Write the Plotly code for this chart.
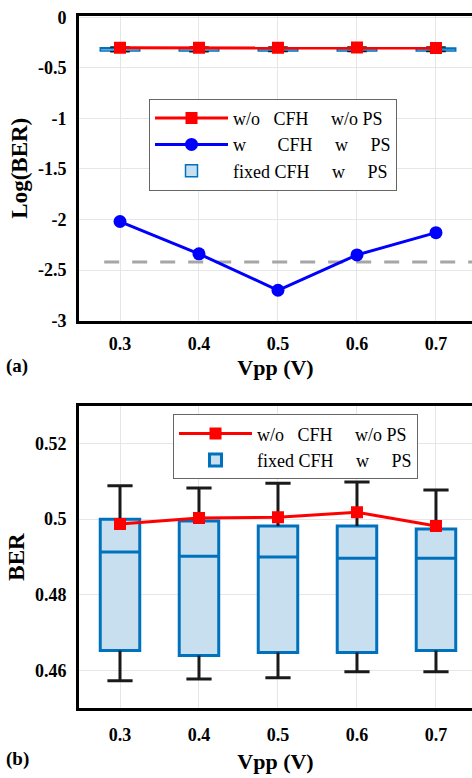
import numpy as np
import plotly.graph_objects as go

# ---------------- data ----------------
vpp = [0.3, 0.4, 0.5, 0.6, 0.7]
x_ticks = [0.3, 0.4, 0.5, 0.6, 0.7]
x_ticktext = ["0.3", "0.4", "0.5", "0.6", "0.7"]

# panel (b): BER
ber_no_cfh_no_ps = [0.4987, 0.5003, 0.5005, 0.5018, 0.4982]
box_upper = [0.5088, 0.5082, 0.5095, 0.5098, 0.5077]
box_q3 = [0.5000, 0.4995, 0.4982, 0.4982, 0.4974]
box_median = [0.4913, 0.4902, 0.4900, 0.4897, 0.4897]
box_q1 = [0.4653, 0.4640, 0.4648, 0.4648, 0.4653]
box_lower = [0.4573, 0.4578, 0.4581, 0.4597, 0.4597]

# panel (a): log10(BER)
log_w_cfh_w_ps = [-2.02, -2.34, -2.70, -2.35, -2.13]
fec_threshold = -2.42
fec_x = [0.28, 0.75]

ya_ticks = [0, -0.5, -1, -1.5, -2, -2.5, -3]
ya_ticktext = ["0", "-0.5", "-1", "-1.5", "-2", "-2.5", "-3"]
yb_ticks = [0.46, 0.48, 0.50, 0.52]
yb_ticktext = ["0.46", "0.48", "0.5", "0.52"]

# ---------------- style ----------------
RED = "#ff0000"
BLUE = "#0000ff"
BOXLINE = "#0072bd"
BOXFILL = "#c8dff0"
GRID = "#e6e6e6"
WHISK = "#1a1a1a"
FONT = "Liberation Serif"
NB = "\u00a0"

lab1 = "w/o" + NB * 3 + "CFH" + NB * 5 + "w/o" + NB + "PS"
lab2 = "w" + NB * 7 + "CFH" + NB * 5 + "w" + NB * 5 + "PS"
lab3 = "fixed" + NB + "CFH" + NB * 5 + "w" + NB * 5 + "PS"

fig = go.Figure()


def seg(xs, a, b):
    ox, oy = [], []
    for x, p, q in zip(xs, a, b):
        ox += [x, x, None]
        oy += [p, q, None]
    return ox, oy


def add_panel(xa, ya, q1, med, q3, lo, hi, red_vals, leg, boxlw, capsize, wlw):
    # boxes
    fig.add_trace(go.Box(
        x=vpp, q1=q1, median=med, q3=q3, lowerfence=q1, upperfence=q3,
        width=0.05, fillcolor=BOXFILL, line=dict(color=BOXLINE, width=boxlw),
        name=lab3, xaxis=xa, yaxis=ya, showlegend=True,
        legend=leg, legendrank=3, hoverinfo="skip",
    ))
    # whisker stems
    wx1, wy1 = seg(vpp, q3, hi)
    wx2, wy2 = seg(vpp, q1, lo)
    fig.add_trace(go.Scatter(
        x=wx1 + wx2, y=wy1 + wy2, mode="lines",
        line=dict(color=WHISK, width=wlw),
        xaxis=xa, yaxis=ya, showlegend=False, hoverinfo="skip",
    ))
    # whisker caps
    fig.add_trace(go.Scatter(
        x=vpp + vpp, y=list(hi) + list(lo), mode="markers",
        marker=dict(symbol="line-ew-open", size=capsize, color=WHISK,
                    line=dict(color=WHISK, width=wlw)),
        xaxis=xa, yaxis=ya, showlegend=False, hoverinfo="skip",
    ))
    # red line
    fig.add_trace(go.Scatter(
        x=vpp, y=red_vals, mode="lines+markers", name=lab1,
        line=dict(color=RED, width=3),
        marker=dict(symbol="square", size=12, color=RED),
        xaxis=xa, yaxis=ya, legend=leg, legendrank=1,
    ))


# panel (a) in log scale
lg = np.log10
add_panel("x", "y",
          list(lg(box_q1)), list(lg(box_median)), list(lg(box_q3)),
          list(lg(box_lower)), list(lg(box_upper)),
          list(lg(ber_no_cfh_no_ps)), "legend", 1.5, 14, 1.5)
fig.add_trace(go.Scatter(
    x=fec_x, y=[fec_threshold] * 2, mode="lines",
    line=dict(color="#a6a6a6", width=3, dash="15px,13px"),
    showlegend=False, xaxis="x", yaxis="y", hoverinfo="skip",
))
fig.add_trace(go.Scatter(
    x=vpp, y=log_w_cfh_w_ps, mode="lines+markers", name=lab2,
    line=dict(color=BLUE, width=3),
    marker=dict(symbol="circle", size=13, color=BLUE),
    xaxis="x", yaxis="y", legend="legend", legendrank=2,
))

# panel (b)
add_panel("x2", "y2", box_q1, box_median, box_q3, box_lower, box_upper,
          ber_no_cfh_no_ps, "legend2", 3, 18, 3)

W, H = 472, 778
xl = 79 / W
xrange = [0.2481, 0.7456]

axis_common = dict(
    showline=True, linecolor="black", linewidth=3,
    showgrid=True, gridcolor=GRID, gridwidth=1, zeroline=False,
    tickfont=dict(family=FONT, size=18, color="black", weight="bold"),
    ticks="", ticklabeloverflow="allow",
)

legend_common = dict(
    bgcolor="white", bordercolor="#666666", borderwidth=1,
    font=dict(family=FONT, size=18, color="black"),
    itemwidth=73, tracegroupgap=0, traceorder="normal",
    xanchor="left", yanchor="top",
)

title_x = dict(family=FONT, size=22, color="black", weight="bold")
title_y = dict(family=FONT, size=23, color="black", weight="bold")

fig.update_layout(
    width=W, height=H, margin=dict(l=0, r=0, t=0, b=0),
    paper_bgcolor="white", plot_bgcolor="white",
    showlegend=True,
    xaxis=dict(**axis_common, domain=[xl, 1.0], range=xrange, mirror=True,
               tickvals=x_ticks, ticktext=x_ticktext, anchor="y",
               ticklabelstandoff=5,
               title=dict(text="Vpp (V)", standoff=7, font=title_x)),
    yaxis=dict(**axis_common, domain=[1 - 320 / H, 1 - 8 / H], range=[-3, 0.015],
               tickvals=ya_ticks, ticktext=ya_ticktext, anchor="x",
               ticklabelstandoff=6,
               title=dict(text="Log(BER)", standoff=4, font=title_y)),
    xaxis2=dict(**axis_common, domain=[xl, 1.0], range=xrange, mirror=True,
                tickvals=x_ticks, ticktext=x_ticktext, anchor="y2",
                ticklabelstandoff=8,
                title=dict(text="Vpp (V)", standoff=10, font=title_x)),
    yaxis2=dict(**axis_common, domain=[1 - 717 / H, 1 - 407 / H], range=[0.45, 0.53],
                tickvals=yb_ticks, ticktext=yb_ticktext, anchor="x2",
                ticklabelstandoff=6,
                title=dict(text="BER", standoff=4, font=title_y)),
    legend=dict(**legend_common, x=149 / W, y=1 - 93 / H),
    legend2=dict(**legend_common, x=173 / W, y=1 - 416 / H),
    annotations=[
        dict(text="(a)", x=4 / W, y=1 - 366 / H, xref="paper", yref="paper",
             xanchor="left", yanchor="middle", showarrow=False,
             font=dict(family=FONT, size=19, color="black", weight="bold")),
        dict(text="(b)", x=4 / W, y=1 - 769 / H, xref="paper", yref="paper",
             xanchor="left", yanchor="middle", showarrow=False,
             font=dict(family=FONT, size=19, color="black", weight="bold")),
    ],
)

fig.write_html("out.html")
